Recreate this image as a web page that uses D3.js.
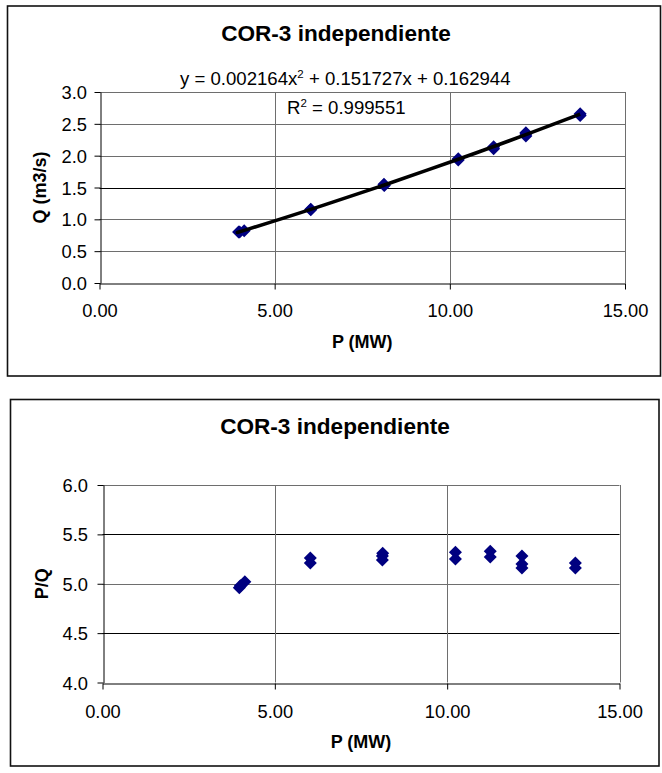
<!DOCTYPE html>
<html>
<head>
<meta charset="utf-8">
<script src="https://cdn.jsdelivr.net/npm/d3@7"></script>
<style>
  body { margin: 0; background: #fff; }
  svg { display: block; font-family: "Liberation Sans", Arial, sans-serif; }
</style>
</head>
<body>
<svg id="chart" width="662" height="773"></svg>
<script>
// data
var P_MW = [3.97, 4.00, 4.13, 6.03, 6.03, 8.12, 8.12, 8.13, 10.24, 10.24, 11.25, 11.25, 12.17, 12.17, 12.17, 13.72, 13.72];
var Q_m3s = [0.80, 0.80, 0.82, 1.16, 1.15, 1.55, 1.54, 1.53, 1.95, 1.93, 2.14, 2.11, 2.36, 2.34, 2.31, 2.66, 2.63];
var PQ_ratio = [4.96, 4.98, 5.02, 5.21, 5.26, 5.24, 5.28, 5.31, 5.25, 5.32, 5.27, 5.33, 5.16, 5.20, 5.28, 5.16, 5.21];

// polynomial trendline shown on the chart
var trendCoef = [0.002164, 0.151727, 0.162944];
var trendR2 = '0.999551';

var xTicks = [0, 5, 10, 15];
var qTicks = [0, 0.5, 1.0, 1.5, 2.0, 2.5, 3.0];
var pqTicks = [4.0, 4.5, 5.0, 5.5, 6.0];

var svg = d3.select('#chart');

function drawChart(cfg) {
  var g = svg.append('g');

  // outer frame
  g.append('rect')
    .attr('x', cfg.frame[0]).attr('y', cfg.frame[1])
    .attr('width', cfg.frame[2] - cfg.frame[0]).attr('height', cfg.frame[3] - cfg.frame[1])
    .attr('fill', 'none').attr('stroke', '#111').attr('stroke-width', 1.6);

  var x = d3.scaleLinear().domain([0, 15]).range([cfg.left, cfg.right]);
  var y = d3.scaleLinear().domain(cfg.yDomain).range([cfg.bottom, cfg.top]);

  // gridlines
  g.append('g').selectAll('line.h')
    .data(cfg.yTicks.filter(function (d) { return d !== cfg.yDomain[0]; }))
    .enter().append('line')
    .attr('x1', cfg.left).attr('x2', cfg.right)
    .attr('y1', function (d) { return Math.round(y(d)) + 0.5; })
    .attr('y2', function (d) { return Math.round(y(d)) + 0.5; })
    .attr('stroke', function (d) { return cfg.darkGrid.indexOf(d) >= 0 ? '#000' : '#6e6e6e'; })
    .attr('stroke-width', 1);

  g.append('g').selectAll('line.v')
    .data(xTicks.filter(function (d) { return d > 0; }))
    .enter().append('line')
    .attr('y1', cfg.top).attr('y2', cfg.bottom)
    .attr('x1', function (d) { return Math.round(x(d)) + 0.5; })
    .attr('x2', function (d) { return Math.round(x(d)) + 0.5; })
    .attr('stroke', '#6e6e6e').attr('stroke-width', 1);

  // axes
  var xAxis = g.append('g')
    .attr('transform', 'translate(0,' + (Math.round(cfg.bottom) + 0.5) + ')')
    .call(d3.axisBottom(x).tickValues(xTicks).tickSize(6).tickSizeOuter(0)
      .tickFormat(d3.format('.2f')));
  xAxis.select('.domain').attr('stroke', '#000');
  xAxis.selectAll('.tick line').attr('stroke', '#000');
  xAxis.selectAll('.tick text')
    .attr('y', cfg.xLabelY - cfg.bottom).attr('dy', 0)
    .attr('font-size', 18.3).attr('fill', '#000').attr('font-family', '"Liberation Sans", Arial, sans-serif');

  var yAxis = g.append('g')
    .attr('transform', 'translate(' + (Math.round(cfg.left) + 0.5) + ',0)')
    .call(d3.axisLeft(y).tickValues(cfg.yTicks).tickSize(6).tickSizeOuter(0)
      .tickFormat(d3.format('.1f')));
  yAxis.select('.domain').attr('stroke', '#000');
  yAxis.selectAll('.tick line').attr('stroke', '#000');
  yAxis.selectAll('.tick text')
    .attr('x', -(cfg.left - cfg.yLabelRight)).attr('dy', '0.36em')
    .attr('font-size', 18.3).attr('fill', '#000').attr('font-family', '"Liberation Sans", Arial, sans-serif');

  // titles
  g.append('text')
    .attr('x', cfg.titleX).attr('y', cfg.titleY)
    .attr('text-anchor', 'middle').attr('font-size', 22.6).attr('font-weight', 'bold')
    .text('COR-3 independiente');

  g.append('text')
    .attr('x', (cfg.left + cfg.right) / 2).attr('y', cfg.xTitleY)
    .attr('text-anchor', 'middle').attr('font-size', 18).attr('font-weight', 'bold')
    .text('P (MW)');

  g.append('text')
    .attr('transform', 'translate(' + cfg.yTitleX + ',' + (cfg.top + cfg.bottom) / 2 + ') rotate(-90)')
    .attr('text-anchor', 'middle').attr('dy', '0.36em').attr('font-size', 18).attr('font-weight', 'bold')
    .text(cfg.yTitle);

  return { g: g, x: x, y: y };
}

function drawDiamonds(c, xs, ys) {
  var diamond = 'M0,-6.5L6.5,0L0,6.5L-6.5,0Z';
  c.g.append('g').selectAll('path')
    .data(xs)
    .enter().append('path')
    .attr('d', diamond)
    .attr('transform', function (d, i) { return 'translate(' + c.x(d) + ',' + c.y(ys[i]) + ')'; })
    .attr('fill', '#000080');
}

// top chart: Q vs P
var qChart = drawChart({
  frame: [7.5, 6, 660.5, 376],
  left: 99.5, right: 625, top: 92, bottom: 283,
  yDomain: [0, 3], yTicks: qTicks, darkGrid: [1.5],
  xLabelY: 316, yLabelRight: 86,
  titleX: 336, titleY: 40.5, xTitleY: 348, yTitleX: 40,
  yTitle: 'Q (m3/s)'
});

// trendline through the data range
var trendX = Array.from(new Set(P_MW)).sort(d3.ascending);
var trendLine = d3.line()
  .x(function (d) { return qChart.x(d); })
  .y(function (d) { return qChart.y(trendCoef[0] * d * d + trendCoef[1] * d + trendCoef[2]); })
  .curve(d3.curveNatural);

drawDiamonds(qChart, P_MW, Q_m3s);

qChart.g.append('path')
  .datum(trendX)
  .attr('d', trendLine)
  .attr('fill', 'none').attr('stroke', '#000').attr('stroke-width', 3.6);

var eq = qChart.g.append('text')
  .attr('x', 180).attr('y', 85).attr('font-size', 18.6);
eq.append('tspan').text('y = ' + trendCoef[0].toFixed(6) + 'x');
eq.append('tspan').attr('dy', -7).attr('font-size', 11.5).text('2');
eq.append('tspan').attr('dy', 7).text(' + ' + trendCoef[1].toFixed(6) + 'x + ' + trendCoef[2].toFixed(6));

var r2 = qChart.g.append('text')
  .attr('x', 287).attr('y', 114).attr('font-size', 18.6);
r2.append('tspan').text('R');
r2.append('tspan').attr('dy', -7).attr('font-size', 11.5).text('2');
r2.append('tspan').attr('dy', 7).text(' = ' + trendR2);

// bottom chart: P/Q vs P
var pqChart = drawChart({
  frame: [10.5, 399.5, 659, 766],
  left: 102.5, right: 619.5, top: 485, bottom: 682.5,
  yDomain: [4, 6], yTicks: pqTicks, darkGrid: [4.5, 5.5],
  xLabelY: 716.5, yLabelRight: 87,
  titleX: 335, titleY: 433.5, xTitleY: 748, yTitleX: 42,
  yTitle: 'P/Q'
});

drawDiamonds(pqChart, P_MW, PQ_ratio);
</script>
</body>
</html>
